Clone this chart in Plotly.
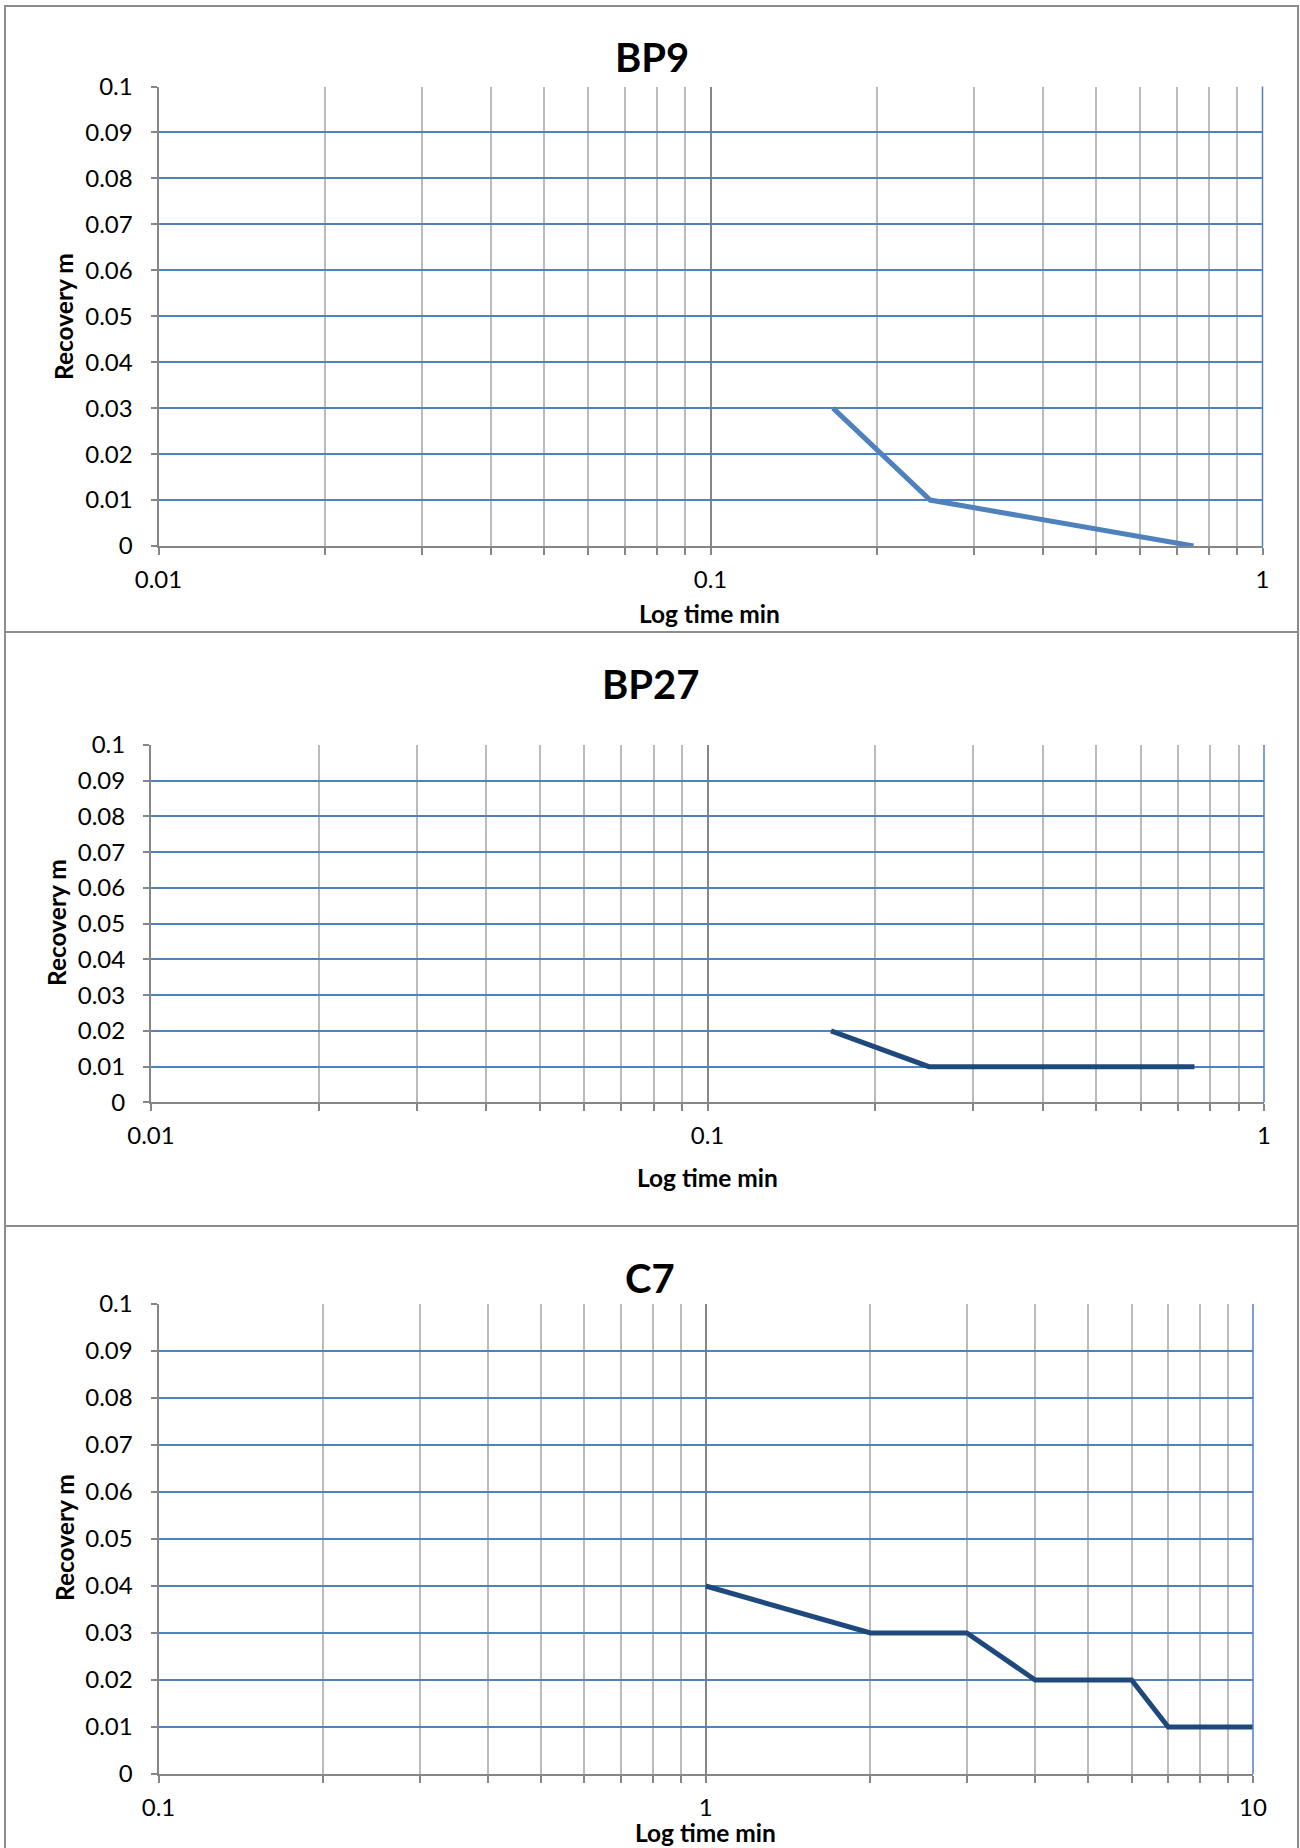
import plotly.graph_objects as go

# ---------------- data ----------------
bp9_time = [0.1667, 0.25, 0.75]
bp9_recovery = [0.03, 0.01, 0.0]

bp27_time = [0.1667, 0.25, 0.5, 0.75]
bp27_recovery = [0.02, 0.01, 0.01, 0.01]

c7_time = [1, 2, 3, 4, 5, 6, 7, 8, 9, 10]
c7_recovery = [0.04, 0.03, 0.03, 0.02, 0.02, 0.02, 0.01, 0.01, 0.01, 0.01]

titles = ["BP9", "BP27", "C7"]
y_title = "Recovery m"
x_title = "Log time min"

y_tick_vals = [0, 0.01, 0.02, 0.03, 0.04, 0.05, 0.06, 0.07, 0.08, 0.09, 0.1]
y_tick_text = ["0", "0.01", "0.02", "0.03", "0.04", "0.05", "0.06", "0.07", "0.08", "0.09", "0.1"]

x_ticks_small = [0.01, 0.1, 1]
x_ticks_small_text = ["0.01", "0.1", "1"]
x_ticks_large = [0.1, 1, 10]
x_ticks_large_text = ["0.1", "1", "10"]

# ---------------- styling ----------------
W, H = 1300, 1848
FONT = "Lato"
BLUE_GRID = "#4F81BD"
AXIS_GRAY = "#868686"
MINOR_GRAY = "#BBBBBB"
FRAME_GRAY = "#8C8C8C"


def px_x(x):
    return x / W


def px_y(y):
    return 1 - y / H


def minor_vals(lo_exp, hi_exp):
    return [k * 10 ** e for e in range(lo_exp, hi_exp) for k in range(2, 10)]


panels = [
    dict(x0=158.5, x1=1262.5, y0=86.5, y1=546, rng=[-2, 0], tv=x_ticks_small, tt=x_ticks_small_text,
         minor=minor_vals(-2, 0), title_xy=(652, 57), ytitle_xy=(63, 316), xtitle_xy=(710, 613),
         frame=(5, 6, 1298, 632)),
    dict(x0=151, x1=1264, y0=745, y1=1102.4, rng=[-2, 0], tv=x_ticks_small, tt=x_ticks_small_text,
         minor=minor_vals(-2, 0), title_xy=(651, 684), ytitle_xy=(57, 923), xtitle_xy=(707, 1177),
         frame=(5, 632, 1298, 1226)),
    dict(x0=158.5, x1=1253, y0=1304, y1=1774, rng=[-1, 1], tv=x_ticks_large, tt=x_ticks_large_text,
         minor=minor_vals(-1, 1), title_xy=(650, 1278), ytitle_xy=(64, 1538), xtitle_xy=(705, 1832),
         frame=(5, 1226, 1298, 1860)),
]

series = [
    (bp9_time, bp9_recovery, "#4F81BD"),
    (bp27_time, bp27_recovery, "#1F497D"),
    (c7_time, c7_recovery, "#1F497D"),
]

fig = go.Figure()
shapes = []
annotations = []
layout = {}

for i, (p, (xs, ys, col)) in enumerate(zip(panels, series), start=1):
    sfx = "" if i == 1 else str(i)
    fig.add_trace(go.Scatter(x=xs, y=ys, mode="lines", line=dict(color=col, width=5),
                             xaxis="x" + sfx, yaxis="y" + sfx, showlegend=False,
                             hoverinfo="skip"))
    layout["xaxis" + sfx] = dict(
        domain=[px_x(p["x0"]), px_x(p["x1"])], anchor="y" + sfx, type="log", range=p["rng"],
        tickmode="array", tickvals=p["tv"], ticktext=p["tt"],
        showgrid=True, gridcolor=AXIS_GRAY, gridwidth=1.5,
        showline=True, linecolor=AXIS_GRAY, linewidth=2,
        ticks="outside", ticklen=7, tickcolor=AXIS_GRAY, tickwidth=1.5,
        ticklabelstandoff=4,
        minor=dict(tickmode="array", tickvals=p["minor"], ticks="outside", ticklen=7,
                   tickcolor=AXIS_GRAY, tickwidth=1.5, showgrid=True, gridcolor=MINOR_GRAY,
                   gridwidth=1.5),
        tickfont=dict(family=FONT, size=24, color="#000000"),
        zeroline=False, fixedrange=True, automargin=False,
    )
    layout["yaxis" + sfx] = dict(
        domain=[px_y(p["y1"]), px_y(p["y0"])], anchor="x" + sfx, range=[0, 0.1],
        tickmode="array", tickvals=y_tick_vals, ticktext=y_tick_text,
        showgrid=True, gridcolor=BLUE_GRID, gridwidth=1.5,
        showline=True, linecolor=AXIS_GRAY, linewidth=2,
        ticks="outside", ticklen=6, tickcolor=AXIS_GRAY, tickwidth=1.5,
        ticklabelstandoff=13,
        tickfont=dict(family=FONT, size=24, color="#000000"),
        zeroline=False, fixedrange=True, automargin=False,
    )
    # right border of plot area (blue)
    shapes.append(dict(type="line", xref="x%s domain" % sfx, yref="y%s domain" % sfx,
                       x0=1, x1=1, y0=0, y1=1, line=dict(color=BLUE_GRID, width=1.5)))
    # panel frame
    fx0, fy0, fx1, fy1 = p["frame"]
    shapes.append(dict(type="rect", xref="paper", yref="paper",
                       x0=px_x(fx0), x1=px_x(fx1), y0=px_y(fy1), y1=px_y(fy0),
                       line=dict(color=FRAME_GRAY, width=2), layer="below"))
    # titles
    tx, ty = p["title_xy"]
    annotations.append(dict(text="<b>%s</b>" % titles[i - 1], x=px_x(tx), y=px_y(ty),
                            xref="paper", yref="paper", showarrow=False,
                            xanchor="center", yanchor="middle",
                            font=dict(family=FONT, size=40, color="#000000")))
    yx, yy = p["ytitle_xy"]
    annotations.append(dict(text="<b>%s</b>" % y_title, x=px_x(yx), y=px_y(yy),
                            xref="paper", yref="paper", showarrow=False, textangle=-90,
                            xanchor="center", yanchor="middle",
                            font=dict(family=FONT, size=24.5, color="#000000")))
    xx, xy = p["xtitle_xy"]
    annotations.append(dict(text="<b>%s</b>" % x_title, x=px_x(xx), y=px_y(xy),
                            xref="paper", yref="paper", showarrow=False,
                            xanchor="center", yanchor="middle",
                            font=dict(family=FONT, size=24.5, color="#000000")))

fig.update_layout(
    width=W, height=H, margin=dict(l=0, r=0, t=0, b=0, autoexpand=False),
    paper_bgcolor="white", plot_bgcolor="white",
    shapes=shapes, annotations=annotations, showlegend=False,
    **layout,
)

fig.write_html(
    "out.html",
    config={"displayModeBar": False},
    post_script="document.body.style.margin='0';document.body.style.overflow='hidden';",
)
